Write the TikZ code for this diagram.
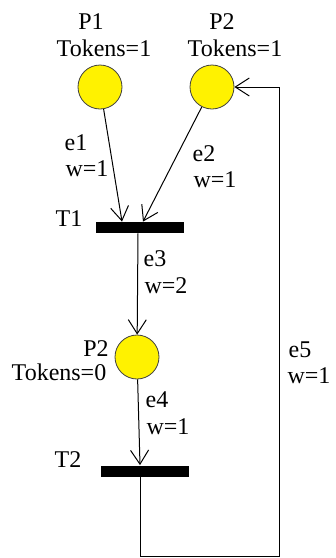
\documentclass[tikz,border=0pt]{standalone}
\usepackage{fontspec}
\setmainfont{Liberation Serif}
\usetikzlibrary{positioning,arrows.meta,calc}

\begin{document}
\begin{tikzpicture}[x=0.5pt, y=-0.5pt,
        every node/.style={font=\fontsize{12}{14}\selectfont, inner sep=0pt},
        place/.style={draw=black!75, fill=yellow, circle, minimum size=22pt, thin},
        trans/.style={fill=black, rectangle, minimum width=44pt, minimum height=5.5pt},
        arc/.style={-{Straight Barb[length=7pt,width=9pt]}, line width=0.5pt}]

        \useasboundingbox (0,0) rectangle (336,558);

        %%% Places
        % Top row: P1 and P2
        \node[place] (p1) at (100,87) {};
        \node[place] (p2) at (212,87) {};
        % Place below T1
        \node[place] (p3) at (137,357) {};

        %%% Transitions
        \node[trans] (t1) at (140,227.5) {};
        \node[trans] (t2) at (145,471) {};

        %%% Labels of places and transitions
        \node (lp1) at (91,22) {P1};
        \node (ltok1) at (104,48) {Tokens=1};
        \node (lp2) at (222,22) {P2};
        \node (ltok2) at (235,48) {Tokens=1};
        \node (lp3) at (96,349) {P2};
        \node (ltok3) at (59,372) {Tokens=0};
        \node (lt1) at (69,219) {T1};
        \node (lt2) at (68,460) {T2};

        %%% Arc labels
        \node (le1) at (76,143) {e1};
        \node (lw1) at (87,169) {w=1};
        \node (le2) at (204,154) {e2};
        \node (lw2) at (215,180) {w=1};
        \node (le3) at (155,259) {e3};
        \node (lw3) at (166,286) {w=2};
        \node (le4) at (157,400) {e4};
        \node (lw4) at (168,427) {w=1};
        \node (le5) at (300,350) {e5};
        \node (lw5) at (309,376) {w=1};

        %%% Arcs
        \draw[arc] (p1) -- ($(t1.north)+(-18,0)$);
        \draw[arc] (p2) -- ($(t1.north)+(3,0)$);
        \draw[arc] (t1.south -| 138,0) -- (p3);
        \draw[arc] (p3) -- (t2.north -| 140,0);
        % Feedback arc back to P2
        \coordinate (fb) at (279,556.5);
        \draw[arc] (t2.south -| 140,0) |- (fb) |- (p2.east);
      \end{tikzpicture}
\end{document}
